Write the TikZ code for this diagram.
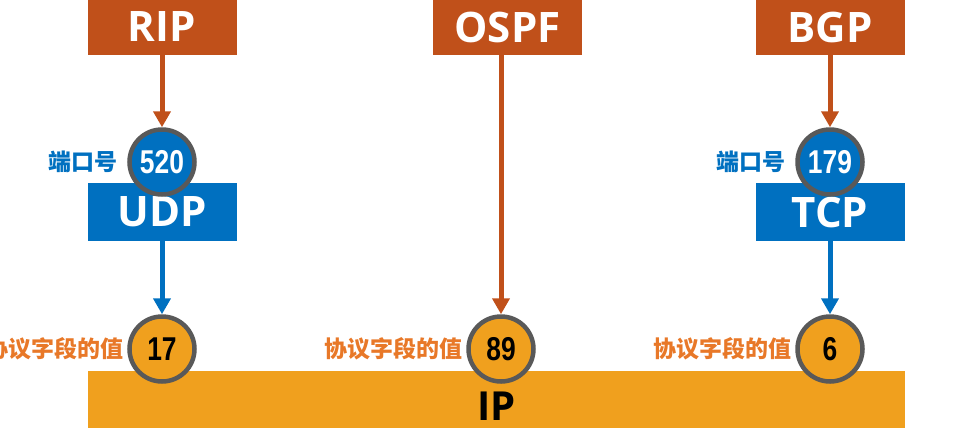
\documentclass[tikz,border=0pt]{standalone}
\usepackage{fontspec}
\setmainfont{Open Sans}
\newfontfamily\cjk{Noto Sans CJK SC}
\newfontfamily\numfont[FakeStretch=0.8]{Liberation Sans}
\usetikzlibrary{positioning, arrows.meta}
\definecolor{rust}{RGB}{192,80,26}
\definecolor{msblue}{RGB}{0,112,192}
\definecolor{amber}{RGB}{240,160,30}
\definecolor{ringgray}{RGB}{89,89,89}
\definecolor{lblorange}{RGB}{232,120,40}

\begin{document}
\begin{tikzpicture}[x=1pt, y=-1pt,
  proto/.style={rectangle, fill=rust, text=white, minimum width=149pt,
               minimum height=56pt, inner sep=0pt,
               font=\fontsize{42}{42}\selectfont\bfseries},
  trans/.style={proto, fill=msblue, minimum height=58pt},
  ring/.style={circle, draw=ringgray, line width=4.5pt, minimum size=65pt,
               inner sep=0pt, font=\numfont\fontsize{33}{33}\selectfont\bfseries},
  port/.style={ring, fill=msblue, text=white},
  pval/.style={ring, fill=amber, text=black},
  lbl/.style={inner sep=0pt, font=\cjk\fontsize{23}{23}\selectfont\bfseries},
  rarr/.style={-{Triangle[length=16pt,width=17pt]}, line width=5pt, color=rust},
  barr/.style={rarr, color=msblue}
]
  \useasboundingbox (0,0) rectangle (960,429);
  % IP layer
  \node[fill=amber, minimum width=817pt, minimum height=57pt, inner sep=0pt] (ip) at (496.5,399.5) {};
  \node[font=\fontsize{40}{40}\selectfont\bfseries, inner sep=0pt] (iptxt) at ([yshift=-7pt]ip.center) {IP};
  % routing protocols
  \node[proto] (rip)  at (162,27)   {RIP};
  \node[proto] (ospf) at (507.5,27) {OSPF};
  \node[proto] (bgp)  at (830,27)   {BGP};
  % transport
  \node[trans] (udp) at (162,212) {UDP};
  \node[trans] (tcp) at (830,212) {TCP};
  % ports and protocol field values
  \node[port] (p520) at (162,162) {520};
  \node[port] (p179) at (830,162) {179};
  \node[pval] (v17)  at (162,349) {17};
  \node[pval] (v89)  at (501,349) {89};
  \node[pval] (v6)   at (830,349) {6};
  \draw[rarr] (rip) -- (p520);
  \draw[rarr] (bgp) -- (p179);
  \draw[rarr] (ospf.south -| v89) -- (v89);
  \draw[barr] (udp) -- (v17);
  \draw[barr] (tcp) -- (v6);
  \node[lbl, text=msblue, left=10pt of p520] (l520) {端口号};
  \node[lbl, text=msblue, left=10pt of p179] (l179) {端口号};
  \node[lbl, text=lblorange, left=4pt of v17] (l17) {协议字段的值};
  \node[lbl, text=lblorange, left=4pt of v89] (l89) {协议字段的值};
  \node[lbl, text=lblorange, left=4pt of v6]  (l6)  {协议字段的值};
\end{tikzpicture}
\end{document}
